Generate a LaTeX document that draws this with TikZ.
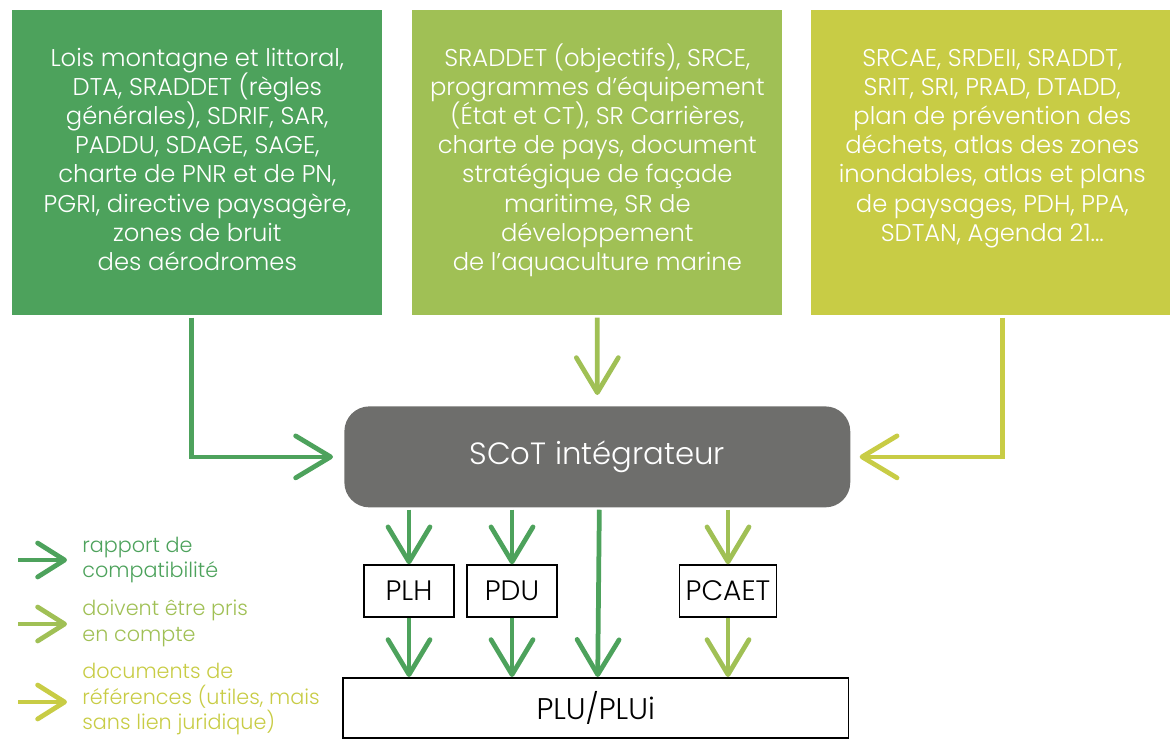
\documentclass[tikz,border=0pt]{standalone}
\usepackage{fontspec}
\setmainfont{Poppins}[UprightFont=* Light]
\usetikzlibrary{arrows.meta,positioning}
\definecolor{cA}{RGB}{77,162,92}
\definecolor{cB}{RGB}{160,192,85}
\definecolor{cC}{RGB}{200,204,69}
\definecolor{scotgray}{RGB}{110,110,108}
\lineskiplimit=-20pt
\newcommand{\toprule}{\rule{0pt}{15pt}}

\begin{document}
\begin{tikzpicture}[x=0.02cm,y=-0.02cm,
    >={Straight Barb[length=0.7cm,width=0.84cm,line cap=round,line join=round]},
    line width=0.095cm,
    src box/.style={rectangle,anchor=north west,minimum height=6.1cm,inner sep=0pt},
    src text/.style={white,align=center,inner sep=0pt,font=\fontsize{13.8}{16.6}\selectfont},
    plan box/.style={rectangle,draw=black,fill=white,line width=0.03cm,minimum height=1.04cm,
      minimum width=1.8cm,inner sep=0.12cm,font=\fontsize{16}{18}\selectfont},
    leg text/.style={anchor=west,align=left,inner sep=0pt,font=\fontsize{11.8}{14.7}\selectfont}]
    \useasboundingbox (0,0) rectangle (1170,738);
    % source documents
    \node[src box,fill=cA,minimum width=7.4cm] (src1) at (10,8) {};
    \node[src box,fill=cB,minimum width=7.4cm] (src2) at (410,8) {};
    \node[src box,fill=cC,minimum width=7.24cm] (src3) at (809,8) {};
    \node[src text,below=0.59cm of src1.north] (txt1) {\toprule Lois montagne et littoral,\\DTA, SRADDET (règles\\générales), SDRIF, SAR,\\PADDU, SDAGE, SAGE,\\charte de PNR et de PN,\\PGRI, directive paysagère,\\zones de bruit\\des aérodromes};
    \node[src text,below=0.59cm of src2.north] (txt2) {\toprule SRADDET (objectifs), SRCE,\\programmes d’équipement\\(État et CT), SR Carrières,\\charte de pays, document\\stratégique de façade\\maritime, SR de\\développement\\de l’aquaculture marine};
    \node[src text,below=0.59cm of src3.north] (txt3) {\toprule SRCAE, SRDEII, SRADDT,\\SRIT, SRI, PRAD, DTADD,\\plan de prévention des\\déchets, atlas des zones\\inondables, atlas et plans\\de paysages, PDH, PPA,\\SDTAN, Agenda 21...};
    % SCoT and plans
    \node[rectangle,rounded corners=0.5cm,fill=scotgray,anchor=north west,minimum width=10.12cm,
      minimum height=2.02cm,text=white,font=\fontsize{17.5}{20}\selectfont] (scot) at (342,404) {SCoT intégrateur};
    \node[plan box] (plh) at (409,591) {PLH};
    \node[plan box] (pdu) at (512,591) {PDU};
    \node[plan box] (pcaet) at (728,591) {PCAET};
    \node[rectangle,draw=black,fill=white,line width=0.03cm,anchor=north west,minimum width=10.12cm,
      minimum height=1.2cm,font=\fontsize{17}{20}\selectfont] (plu) at (342,677) {PLU/PLUi};
    % arrows
    \draw[->,cA,shorten >=0.18cm] ([xshift=-0.12cm]src1.south) |- (scot.west);
    \draw[->,cB,shorten >=0.18cm] (src2.south) -- (scot.north);
    \draw[->,cC,shorten >=0.14cm] ([xshift=0.21cm]src3.south) |- (scot.east);
    \draw[->,cA] (plh.north |- scot.south) -- (plh.north);
    \draw[->,cA] (pdu.north |- scot.south) -- (pdu.north);
    \draw[->,cB] (pcaet.north |- scot.south) -- (pcaet.north);
    \draw[->,cA] (plh.south) -- (plh.south |- plu.north);
    \draw[->,cA] (pdu.south) -- (pdu.south |- plu.north);
    \draw[->,cB] (pcaet.south) -- (pcaet.south |- plu.north);
    \draw[->,cA] ([xshift=0.04cm]scot.south) -- ([xshift=0.04cm]plu.north);
    % legend
    \node[leg text,text=cA] (leg1) at (80,560) {rapport de\\compatibilité};
    \node[leg text,text=cB] (leg2) at (80,623) {doivent être pris\\en compte};
    \node[leg text,text=cC] (leg3) at (80,699) {documents de\\références (utiles, mais\\sans lien juridique)};
    \coordinate (l1) at (18,560);
    \coordinate (l2) at (18,624);
    \coordinate (l3) at (18,702);
    \begin{scope}[>={Straight Barb[length=0.54cm,width=0.68cm,line cap=round,line join=round]},
      shorten >=0.26cm]
    \draw[->,cA] (l1) -- (l1 -| leg1.west);
    \draw[->,cB] (l2) -- (l2 -| leg2.west);
    \draw[->,cC] (l3) -- (l3 -| leg3.west);
    \end{scope}
\end{tikzpicture}
\end{document}
